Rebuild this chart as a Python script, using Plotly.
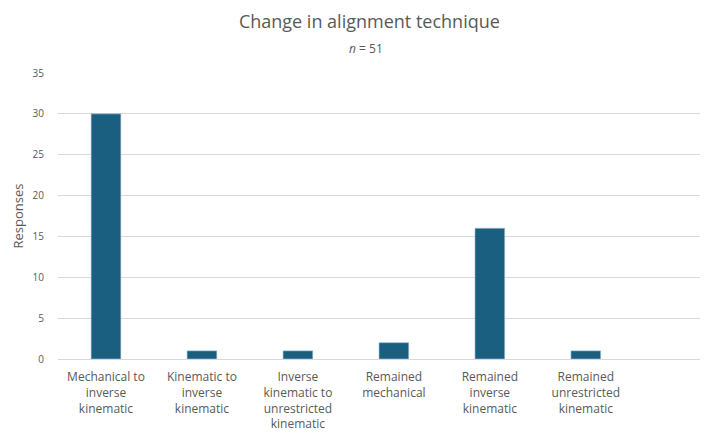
import plotly.graph_objects as go

# Survey responses: change in alignment technique (n = 51)
categories = [
    "Mechanical to<br>inverse<br>kinematic",
    "Kinematic to<br>inverse<br>kinematic",
    "Inverse<br>kinematic to<br>unrestricted<br>kinematic",
    "Remained<br>mechanical",
    "Remained<br>inverse<br>kinematic",
    "Remained<br>unrestricted<br>kinematic",
]
responses = [30, 1, 1, 2, 16, 1]
y_ticks = [0, 5, 10, 15, 20, 25, 30, 35]

positions = list(range(len(categories)))
font_family = "Open Sans, Lato, sans-serif"
text_grey = "#595959"

fig = go.Figure(
    go.Bar(
        x=positions,
        y=responses,
        width=0.31,
        marker=dict(color="#1a5e80", line=dict(color="#a9c7d6", width=0.6)),
        hoverinfo="y",
    )
)

fig.update_layout(
    width=720,
    height=435,
    margin=dict(l=58, r=20, t=73, b=76),
    paper_bgcolor="white",
    plot_bgcolor="white",
    showlegend=False,
    font=dict(family=font_family, color=text_grey, size=10),
    title=dict(
        text="Change in alignment technique",
        x=0.513,
        xanchor="center",
        xref="container",
        y=0.949,
        yref="container",
        yanchor="middle",
        font=dict(family=font_family, size=18, color=text_grey),
    ),
    annotations=[
        dict(
            text="<i>n</i> = 51",
            x=(366 - 58) / (720 - 58 - 20),
            xref="paper",
            y=1.084,
            yref="paper",
            xanchor="center",
            yanchor="middle",
            showarrow=False,
            font=dict(family=font_family, size=12, color=text_grey),
        )
    ],
)

fig.update_xaxes(
    range=[-0.5, 6.19],
    tickmode="array",
    tickvals=positions,
    ticktext=categories,
    showgrid=False,
    showline=True,
    linecolor="#d9d9d9",
    linewidth=1,
    ticks="",
    ticklabelstandoff=7,
    tickfont=dict(size=12, color=text_grey),
    zeroline=False,
    automargin=False,
)

fig.update_yaxes(
    range=[0, 35],
    tickmode="array",
    tickvals=y_ticks,
    showgrid=True,
    gridcolor="#d9d9d9",
    gridwidth=1,
    zeroline=False,
    showline=False,
    ticks="",
    ticklabelstandoff=13,
    tickfont=dict(size=10, color=text_grey),
    title=dict(text="Responses", font=dict(size=13, color=text_grey), standoff=6),
    automargin=False,
)

fig.write_html("out.html")
